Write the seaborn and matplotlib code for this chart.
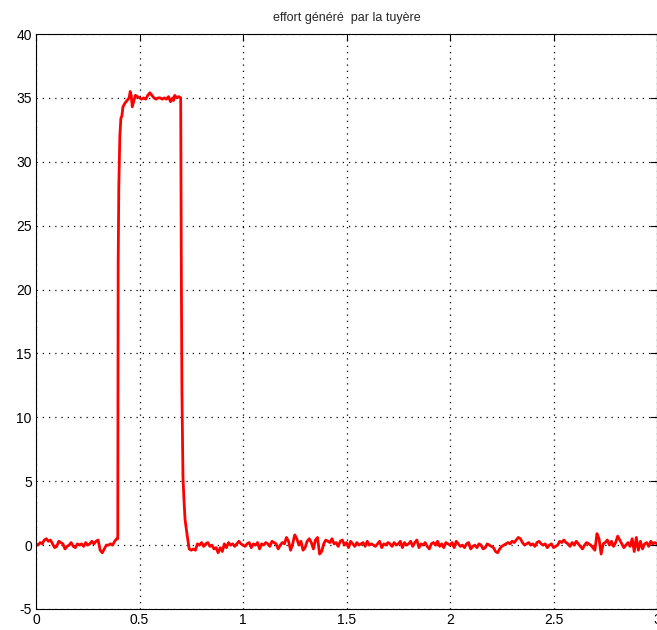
import numpy as np
import pandas as pd
import matplotlib
matplotlib.use("Agg")
import matplotlib.pyplot as plt
import seaborn as sns

# ---------------------------------------------------------
# Data (effort in N vs time in s)
# ---------------------------------------------------------
# before the pulse, t = 0.00 .. 0.39 every 0.01
f_pre = [0.1, 0.0, 0.2, 0.1, 0.4, 0.5, 0.3, 0.4, 0.1, -0.2,
         -0.1, 0.3, 0.2, 0.1, -0.3, -0.1, 0.0, 0.2, -0.1, -0.2,
         0.1, 0.0, 0.1, -0.1, 0.2, 0.0, 0.1, 0.3, 0.1, 0.3,
         0.4, -0.4, -0.6, -0.3, 0.0, 0.0, 0.1, 0.0, 0.3, 0.5]

# the pulse itself (irregular sampling around the edges)
t_pulse = [0.395, 0.397, 0.400, 0.405, 0.410, 0.415, 0.420,
           0.430, 0.440, 0.450, 0.455, 0.460, 0.465, 0.470,
           0.48, 0.49, 0.50, 0.51, 0.52, 0.53, 0.54, 0.55, 0.56, 0.57,
           0.58, 0.59, 0.60, 0.61, 0.62, 0.63, 0.64, 0.65, 0.66,
           0.665, 0.670, 0.680, 0.690,
           0.699, 0.702, 0.705, 0.710, 0.715, 0.720, 0.730, 0.740]
f_pulse = [0.5, 22.0, 28.0, 32.0, 33.4, 33.6, 34.3,
           34.6, 34.8, 35.0, 35.5, 35.2, 34.3, 34.6,
           35.2, 35.1, 35.0, 34.9, 35.0, 34.9, 35.2, 35.4, 35.2, 35.0,
           34.9, 35.0, 35.0, 34.9, 35.0, 34.9, 35.1, 34.7, 35.0,
           34.8, 35.2, 35.0, 35.1,
           35.0, 21.5, 12.0, 5.3, 3.5, 2.0, 0.8, -0.3]

# after the pulse, t = 0.75 .. 3.00 every 0.01
f_post = [
    -0.4, -0.3, -0.4, 0.1, 0.0, 0.2, -0.1, 0.1, 0.2, -0.1, 0.0, -0.3, -0.2,
    -0.6, -0.2, -0.5, 0.1, -0.2, 0.2, 0.0, 0.1, -0.1, 0.1, 0.3, 0.1,
    0.0, -0.1, 0.1, 0.2, -0.2, 0.1, 0.0, 0.2, -0.3, 0.1, 0.0, 0.2, 0.1,
    -0.1, 0.3, 0.2, 0.1, -0.3, 0.0, 0.2, 0.1, 0.6, 0.3, -0.4, 0.1,
    0.8, 0.5, 0.0, 0.3, -0.4, -0.2, 0.3, 0.5, 0.2, -0.3, 0.4, 0.6, -0.7,
    -0.5, 0.1, 0.4, 0.3, 0.2, 0.5, 0.1, 0.2, -0.1, 0.3, 0.4, 0.0,
    0.2, -0.2, 0.3, 0.1, -0.1, 0.2, 0.0, 0.1, 0.2, -0.1, 0.3, 0.0, 0.1,
    0.0, -0.1, 0.1, 0.3, -0.2, 0.1, 0.0, 0.2, 0.1, -0.1, 0.2, 0.0,
    0.1, 0.3, -0.2, 0.2, 0.0, 0.1, 0.3, -0.1, 0.2, 0.4, -0.2, 0.1, 0.0,
    0.2, -0.1, -0.3, 0.1, 0.2, 0.0, 0.3, -0.1, 0.1, -0.2, 0.2, 0.1,
    0.0, 0.2, -0.2, 0.3, 0.1, -0.1, 0.0, -0.2, 0.1, 0.2, -0.3, -0.1, 0.0,
    -0.2, 0.1, 0.0, -0.3, -0.2, 0.1, 0.0, -0.1, -0.2, -0.5, -0.6, -0.3,
    -0.1, 0.0, 0.1, 0.2, 0.1, 0.3, 0.2, 0.4, 0.6, 0.5, 0.2, 0.0, 0.1,
    0.2, 0.0, 0.1, -0.1, 0.2, 0.3, 0.1, 0.0, 0.1, -0.2, 0.0, 0.1,
    -0.2, -0.1, 0.0, 0.3, 0.2, 0.4, 0.2, 0.1, -0.1, 0.2, 0.0, 0.3, 0.1,
    -0.1, -0.3, 0.0, 0.2, 0.1, 0.0, -0.2, -0.4, 0.9, 0.5, -0.7, 0.1,
    0.2, 0.4, 0.0, 0.3, -0.1, 0.2, 0.7, 0.4, 0.1, -0.2, 0.0, 0.2, -0.1,
    0.5, -0.5, 0.6, -0.4, 0.3, -0.3, 0.1, 0.2, -0.1, 0.3, 0.1, 0.2, 0.1,
]

x_ticks = [0, 0.5, 1, 1.5, 2, 2.5, 3]
x_ticklabels = ["0", "0.5", "1", "1.5", "2", "2.5", "3"]
y_ticks = [-5, 0, 5, 10, 15, 20, 25, 30, 35, 40]
title = "effort généré  par la tuyère"

t_pre = np.arange(len(f_pre)) * 0.01
t_post = 0.75 + np.arange(len(f_post)) * 0.01

df = pd.DataFrame({
    "t": np.concatenate([t_pre, t_pulse, t_post]),
    "effort": np.concatenate([f_pre, f_pulse, f_post]),
})

# ---------------------------------------------------------
# Plot (MATLAB-like look)
# ---------------------------------------------------------
sns.set_style("white")
plt.rcParams["font.family"] = ["Liberation Sans", "DejaVu Sans"]
plt.rcParams["axes.unicode_minus"] = False

fig = plt.figure(figsize=(6.57, 6.3), dpi=100)
# right edge a hair past the canvas: the "3" is clipped in the reference too
ax = fig.add_axes([36 / 657, 21 / 630, 621 / 657, 575 / 630])

sns.lineplot(data=df, x="t", y="effort", sort=False, estimator=None,
             color="red", linewidth=2.0, ax=ax)

ax.set_xlim(0, 3)
ax.set_ylim(-5, 40)
ax.set_xticks(x_ticks)
ax.set_xticklabels(x_ticklabels)
ax.set_yticks(y_ticks)
ax.set_xlabel("")
ax.set_ylabel("")
ax.set_title(title, fontsize=9, pad=9)

ax.grid(True, color="black", linestyle=(0, (1, 4)), linewidth=0.9)
ax.tick_params(direction="in", length=5, width=0.8, colors="black",
               labelsize=10, pad=3, top=True, right=True)
for s in ax.spines.values():
    s.set_color("black")
    s.set_linewidth(0.8)

fig.savefig("out.png", dpi=100)
